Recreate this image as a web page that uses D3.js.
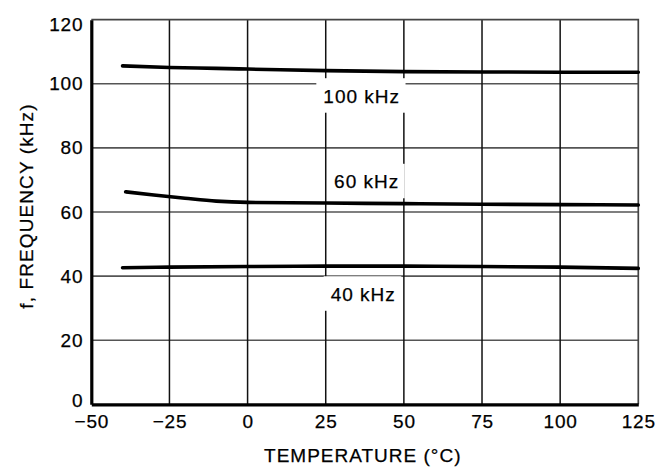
<!DOCTYPE html>
<html>
<head>
<meta charset="utf-8">
<script src="https://cdn.jsdelivr.net/npm/d3@7"></script>
<style>
    body { margin: 0; background: #fff; }
    text { font-family: "Liberation Sans", Arial, sans-serif; fill: #000; stroke: #000; stroke-width: 0.25px; }
</style>
</head>
<body>
<svg id="drawing_region"></svg>
<script>
// temperatures (°C) where the curves were read
const temps_100 = [-40, -25, -10, 0, 25, 50, 75, 100, 125];
const freq_100  = [105.6, 105.1, 104.8, 104.6, 104.1, 103.8, 103.7, 103.6, 103.6];

const temps_60 = [-39, -30, -20, -10, 0, 25, 50, 75, 100, 125];
const freq_60  = [66.3, 65.3, 64.3, 63.4, 63.0, 62.8, 62.6, 62.4, 62.3, 62.2];

const temps_40 = [-40, -25, 0, 25, 50, 75, 100, 125];
const freq_40  = [42.6, 42.8, 43.0, 43.1, 43.1, 43.0, 42.8, 42.4];

const x_ticks = [-50, -25, 0, 25, 50, 75, 100, 125];
const y_ticks = [0, 20, 40, 60, 80, 100, 120];

// curve labels: text and anchor (temp, freq of the baseline)
const label_texts = ["100 kHz", "60 kHz", "40 kHz"];
const label_temps = [36.5, 38.1, 37.0];
const label_freqs = [94.1, 67.4, 32.3];

const series = [
    temps_100.map((t, i) => ({temp: t, freq: freq_100[i]})),
    temps_60.map((t, i) => ({temp: t, freq: freq_60[i]})),
    temps_40.map((t, i) => ({temp: t, freq: freq_40[i]}))
];

var config = {
    parent: '#drawing_region',
    width: 661,
    height: 467,
    margin: {top: 19.7, right: 22.7, bottom: 62.7, left: 91.3}
};

const svg = d3.select(config.parent)
    .attr('width', config.width)
    .attr('height', config.height);

const inner_width = config.width - config.margin.left - config.margin.right;
const inner_height = config.height - config.margin.top - config.margin.bottom;

const chart = svg.append('g')
    .attr('transform', `translate(${config.margin.left}, ${config.margin.top})`);

const xscale = d3.scaleLinear().domain([-50, 125]).range([0, inner_width]);
const yscale = d3.scaleLinear().domain([0, 120]).range([inner_height, 0]);

// grid
chart.append('g').selectAll('line')
    .data(y_ticks.slice(1, -1))
    .join('line')
    .attr('x1', 0).attr('x2', inner_width)
    .attr('y1', d => yscale(d)).attr('y2', d => yscale(d))
    .attr('stroke', '#555').attr('stroke-width', 1.6);

chart.append('g').selectAll('line')
    .data(x_ticks.slice(1, -1))
    .join('line')
    .attr('x1', d => xscale(d)).attr('x2', d => xscale(d))
    .attr('y1', 0).attr('y2', inner_height)
    .attr('stroke', '#111').attr('stroke-width', 1.5);

// frame top / right
chart.append('path')
    .attr('d', `M0,0H${inner_width}V${inner_height}`)
    .attr('fill', 'none')
    .attr('stroke', '#444')
    .attr('stroke-width', 1.7);

// label boxes (white) covering grid
const labels = chart.append('g');
label_texts.forEach((t, i) => {
    const g = labels.append('g');
    const rect = g.append('rect').attr('fill', '#fff').attr('stroke', 'none');
    const txt = g.append('text')
        .attr('x', xscale(label_temps[i]))
        .attr('y', yscale(label_freqs[i]))
        .attr('text-anchor', 'middle')
        .attr('font-size', '19px')
        .attr('letter-spacing', '1px')
        .text(t);
    const bb = txt.node().getBBox();
    rect.attr('x', bb.x - 7)
        .attr('width', bb.width + 12.5)
        .attr('y', yscale(label_freqs[i]) - 24.5)
        .attr('height', 34.5);
});

// curves
const line = d3.line()
    .x(d => xscale(d.temp))
    .y(d => yscale(d.freq))
    .curve(d3.curveMonotoneX);

chart.append('g').selectAll('path')
    .data(series)
    .join('path')
    .attr('d', line)
    .attr('fill', 'none')
    .attr('stroke', '#000')
    .attr('stroke-width', 3.6)
    .attr('stroke-linecap', 'round');

// axes
const xaxis = d3.axisBottom(xscale)
    .tickValues(x_ticks)
    .tickSize(0)
    .tickPadding(10.5)
    .tickFormat(d3.format('d'));

const yaxis = d3.axisLeft(yscale)
    .tickValues(y_ticks)
    .tickSize(0)
    .tickPadding(8);

const xaxis_group = chart.append('g')
    .attr('transform', `translate(0, ${inner_height})`)
    .call(xaxis);

const yaxis_group = chart.append('g')
    .call(yaxis);

[xaxis_group, yaxis_group].forEach(g => {
    g.select('.domain').attr('stroke', '#000').attr('stroke-width', 3.2);
    g.selectAll('text')
        .attr('font-family', '"Liberation Sans", Arial, sans-serif')
        .attr('font-size', '19px')
        .attr('letter-spacing', '0.8px')
        .attr('fill', '#000');
});

// end labels sit a little inside the axis range
yaxis_group.selectAll('.tick text')
    .attr('dy', d => d === 0 ? '0.1em' : d === 120 ? '0.55em' : '0.32em');

// axis titles
svg.append('text')
    .attr('x', config.margin.left + inner_width / 2 - 2)
    .attr('y', 461.5)
    .attr('text-anchor', 'middle')
    .attr('font-size', '19px')
    .attr('letter-spacing', '1px')
    .text('TEMPERATURE (°C)');

svg.append('text')
    .attr('transform', `translate(33, ${config.margin.top + inner_height / 2 - 6}) rotate(-90)`)
    .attr('text-anchor', 'middle')
    .attr('font-size', '19px')
    .attr('letter-spacing', '1.1px')
    .text('f, FREQUENCY (kHz)');
</script>
</body>
</html>
